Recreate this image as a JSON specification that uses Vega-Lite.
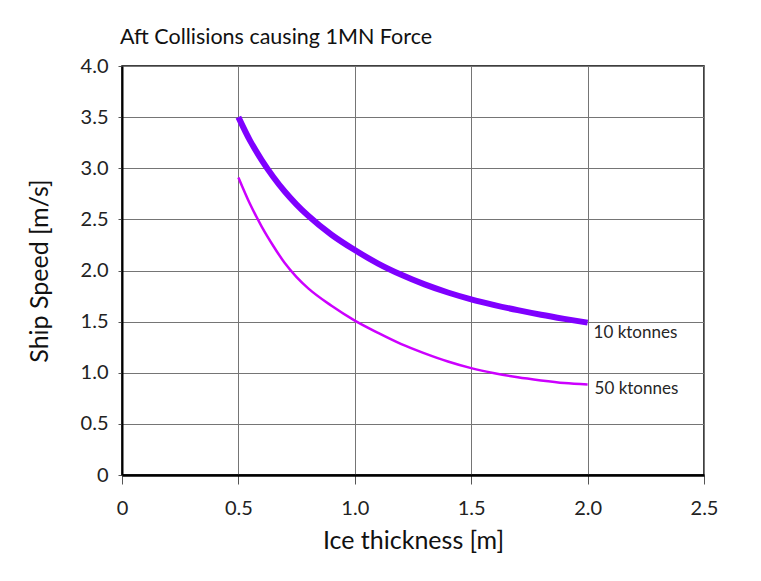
{
  "$schema": "https://vega.github.io/schema/vega-lite/v6.json",
  "width": 582,
  "height": 409,
  "autosize": {"type": "none"},
  "padding": {"left": 122, "top": 66, "right": 57, "bottom": 106},
  "background": "white",
  "config": {
    "view": {"stroke": "#000000", "strokeWidth": 1.5},
    "font": "Lato"
  },
  "title": {
    "text": "Aft Collisions causing 1MN Force",
    "anchor": "start",
    "frame": "group",
    "font": "Lato",
    "fontSize": 21.5,
    "fontWeight": "normal",
    "color": "#111111",
    "offset": 8,
    "dx": -2
  },
  "data": {
    "values": [
      {"series": "10 ktonnes", "h": 0.5, "v": 3.5},
      {"series": "10 ktonnes", "h": 0.55, "v": 3.27},
      {"series": "10 ktonnes", "h": 0.6, "v": 3.08},
      {"series": "10 ktonnes", "h": 0.65, "v": 2.915},
      {"series": "10 ktonnes", "h": 0.7, "v": 2.77},
      {"series": "10 ktonnes", "h": 0.75, "v": 2.645},
      {"series": "10 ktonnes", "h": 0.8, "v": 2.535},
      {"series": "10 ktonnes", "h": 0.9, "v": 2.35},
      {"series": "10 ktonnes", "h": 1.0, "v": 2.2},
      {"series": "10 ktonnes", "h": 1.1, "v": 2.068},
      {"series": "10 ktonnes", "h": 1.2, "v": 1.958},
      {"series": "10 ktonnes", "h": 1.3, "v": 1.864},
      {"series": "10 ktonnes", "h": 1.4, "v": 1.785},
      {"series": "10 ktonnes", "h": 1.5, "v": 1.718},
      {"series": "10 ktonnes", "h": 1.6, "v": 1.662},
      {"series": "10 ktonnes", "h": 1.7, "v": 1.612},
      {"series": "10 ktonnes", "h": 1.8, "v": 1.567},
      {"series": "10 ktonnes", "h": 1.9, "v": 1.527},
      {"series": "10 ktonnes", "h": 2.0, "v": 1.49},
      {"series": "50 ktonnes", "h": 0.5, "v": 2.91},
      {"series": "50 ktonnes", "h": 0.55, "v": 2.65},
      {"series": "50 ktonnes", "h": 0.6, "v": 2.43},
      {"series": "50 ktonnes", "h": 0.65, "v": 2.24},
      {"series": "50 ktonnes", "h": 0.7, "v": 2.07},
      {"series": "50 ktonnes", "h": 0.75, "v": 1.935},
      {"series": "50 ktonnes", "h": 0.8, "v": 1.825},
      {"series": "50 ktonnes", "h": 0.9, "v": 1.655},
      {"series": "50 ktonnes", "h": 1.0, "v": 1.51},
      {"series": "50 ktonnes", "h": 1.1, "v": 1.39},
      {"series": "50 ktonnes", "h": 1.2, "v": 1.28},
      {"series": "50 ktonnes", "h": 1.3, "v": 1.19},
      {"series": "50 ktonnes", "h": 1.4, "v": 1.11},
      {"series": "50 ktonnes", "h": 1.5, "v": 1.045},
      {"series": "50 ktonnes", "h": 1.6, "v": 0.995},
      {"series": "50 ktonnes", "h": 1.7, "v": 0.955},
      {"series": "50 ktonnes", "h": 1.8, "v": 0.925},
      {"series": "50 ktonnes", "h": 1.9, "v": 0.9},
      {"series": "50 ktonnes", "h": 2.0, "v": 0.885}
    ]
  },
  "encoding": {
    "x": {
      "field": "h",
      "type": "quantitative",
      "title": "Ice thickness [m]",
      "scale": {"domain": [0, 2.5], "nice": false, "zero": false},
      "axis": {
        "title": "Ice thickness [m]",
        "values": [0, 0.5, 1, 1.5, 2, 2.5],
        "labelExpr": "datum.value == 0 ? '0' : format(datum.value, '.1f')",
        "grid": true,
        "gridColor": "#757575",
        "gridWidth": 1,
        "domainColor": "#000000",
        "domainWidth": 2.5,
        "tickColor": "#555555",
        "tickSize": 9,
        "tickWidth": 1,
        "labelFont": "Lato",
        "labelFontSize": 20,
        "labelColor": "#222222",
        "labelPadding": 14,
        "labelFlush": false,
        "titleFont": "Lato",
        "titleFontSize": 25,
        "titleFontWeight": "normal",
        "titleColor": "#111111",
        "titlePadding": 10
      }
    },
    "y": {
      "field": "v",
      "type": "quantitative",
      "title": "Ship Speed [m/s]",
      "scale": {"domain": [0, 4], "nice": false, "zero": false},
      "axis": {
        "title": "Ship Speed [m/s]",
        "values": [0, 0.5, 1, 1.5, 2, 2.5, 3, 3.5, 4],
        "labelExpr": "datum.value == 0 ? '0' : format(datum.value, '.1f')",
        "grid": true,
        "gridColor": "#757575",
        "gridWidth": 1,
        "domainColor": "#000000",
        "domainWidth": 2,
        "tickColor": "#555555",
        "tickSize": 4,
        "tickWidth": 1,
        "labelFont": "Lato",
        "labelFontSize": 20,
        "labelColor": "#222222",
        "labelPadding": 10,
        "labelFlush": false,
        "titleFont": "Lato",
        "titleFontSize": 25,
        "titleFontWeight": "normal",
        "titleColor": "#111111",
        "titlePadding": 28
      }
    }
  },
  "layer": [
    {
      "transform": [{"filter": "datum.series == '50 ktonnes'"}],
      "mark": {"type": "line", "color": "#cc00ff", "strokeWidth": 2.5, "interpolate": "monotone", "strokeCap": "butt"}
    },
    {
      "transform": [{"filter": "datum.series == '10 ktonnes'"}],
      "mark": {"type": "line", "color": "#7f00ff", "strokeWidth": 6, "interpolate": "monotone", "strokeCap": "butt"}
    },
    {
      "transform": [{"filter": "datum.series == '10 ktonnes' && datum.h == 2"}],
      "mark": {"type": "text", "align": "left", "baseline": "middle", "dx": 6, "dy": 10, "font": "Lato", "fontSize": 17, "color": "#262626"},
      "encoding": {"text": {"field": "series"}}
    },
    {
      "transform": [{"filter": "datum.series == '50 ktonnes' && datum.h == 2"}],
      "mark": {"type": "text", "align": "left", "baseline": "middle", "dx": 7, "dy": 4, "font": "Lato", "fontSize": 17, "color": "#262626"},
      "encoding": {"text": {"field": "series"}}
    }
  ]
}
